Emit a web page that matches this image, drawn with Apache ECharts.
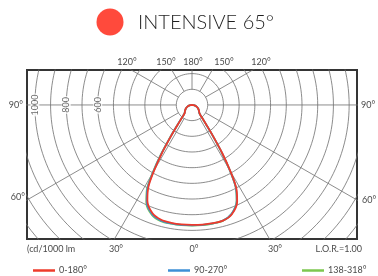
<!DOCTYPE html>
<html>
<head>
<meta charset="utf-8">
<script src="https://cdn.jsdelivr.net/npm/echarts@6/dist/echarts.min.js"></script>
<style>
  html, body { margin: 0; padding: 0; background: #fff; }
  #chart { width: 378px; height: 276px; }
</style>
</head>
<body>
<div id="chart"></div>
<script>
// grid rings (cd/1000 lm) and radial spokes (deg from nadir)
const RINGS = [100, 200, 300, 400, 500, 600, 700, 800, 900, 1000, 1100, 1200, 1300, 1400, 1500];
const SPOKES = [30, 60, 90, 120, 150, 180];
const RADIUS_LABELS = [600, 800, 1000];

// photometric data, angle from nadir
const ANGLES = [0, 5, 10, 15, 20, 25, 28, 30, 32, 34, 36, 38, 40, 42, 45, 50, 60, 70, 80, 90];
const RED_RIGHT = [765, 766, 766, 764, 742, 680, 600, 490, 365, 238, 152, 106, 81, 71, 65, 58, 45, 31, 16, 0];
const RED_LEFT = [765, 765, 763, 758, 735, 672, 590, 480, 358, 234, 150, 104, 80, 70, 64, 58, 45, 31, 16, 0];
const BLUE_RIGHT = [768, 768, 767, 763, 738, 674, 592, 482, 358, 234, 150, 104, 80, 70, 64, 58, 45, 31, 16, 0];
const BLUE_LEFT = [768, 768, 767, 764, 742, 682, 604, 496, 370, 242, 155, 107, 82, 71, 65, 58, 45, 31, 16, 0];
const GREEN_RIGHT = [770, 770, 768, 764, 738, 672, 590, 480, 356, 232, 149, 104, 80, 70, 64, 58, 45, 31, 16, 0];
const GREEN_LEFT = [770, 770, 769, 767, 746, 688, 612, 505, 378, 248, 158, 108, 82, 71, 65, 58, 45, 31, 16, 0];

const SERIES_NAMES = ['0-180°', '90-270°', '138-318°'];
const COLORS = ['#ee3b2b', '#3d8fd6', '#7dc74f'];

const GRID_COLOR = '#6e6e6e';
const LABEL_FONT = 'Lato';

const toXY = (deg, r, side) => {
  const a = deg * Math.PI / 180;
  return [side * r * Math.sin(a), -r * Math.cos(a)];
};

const curve = (left, right) => {
  const pts = [];
  for (let i = ANGLES.length - 1; i >= 0; i--) pts.push(toXY(ANGLES[i], left[i], -1));
  for (let i = 1; i < ANGLES.length; i++) pts.push(toXY(ANGLES[i], right[i], 1));
  return pts;
};

const gridLine = (data) => ({
  type: 'line',
  data: data,
  showSymbol: false,
  silent: true,
  z: 1,
  lineStyle: { color: GRID_COLOR, width: 0.8 }
});

const ringSeries = RINGS.map(r => {
  const pts = [];
  for (let d = 0; d <= 360; d += 2) pts.push(toXY(d, r, 1));
  return gridLine(pts);
});

const spokeSeries = [];
SPOKES.forEach(a => {
  spokeSeries.push(gridLine([toXY(a, 100, 1), toXY(a, 2000, 1)]));
  if (a !== 180) spokeSeries.push(gridLine([toXY(a, 100, -1), toXY(a, 2000, -1)]));
});

const dataSeries = [
  [RED_LEFT, RED_RIGHT, 6],
  [BLUE_LEFT, BLUE_RIGHT, 5],
  [GREEN_LEFT, GREEN_RIGHT, 4]
].map((s, i) => ({
  name: SERIES_NAMES[i],
  type: 'line',
  data: curve(s[0], s[1]),
  showSymbol: false,
  smooth: 0.3,
  z: s[2],
  lineStyle: { color: COLORS[i], width: 1.8 },
  itemStyle: { color: COLORS[i] }
}));

const radiusLabelSeries = {
  type: 'scatter',
  data: RADIUS_LABELS.map(r => [-r, 0, r]),
  symbolSize: 0,
  silent: true,
  z: 3,
  label: {
    show: true,
    position: 'inside',
    rotate: 90,
    formatter: p => String(p.value[2]),
    fontFamily: LABEL_FONT,
    fontSize: 9,
    color: '#444',
    backgroundColor: '#fff',
    padding: [0, 1]
  }
};

const txt = (text, x, y, align, extra) => ({
  type: 'text',
  x: x,
  y: y,
  style: Object.assign({
    text: text,
    fill: '#4a4a4a',
    font: '9px ' + LABEL_FONT,
    textAlign: align,
    textVerticalAlign: 'middle'
  }, extra || {})
});

const legendAt = (i, left) => ({
  data: [SERIES_NAMES[i]],
  left: left,
  top: 261,
  icon: 'rect',
  itemWidth: 22,
  itemHeight: 2.5,
  itemGap: 4,
  selectedMode: false,
  textStyle: { fontFamily: LABEL_FONT, fontSize: 9, color: '#4a4a4a', padding: [0, 0, 0, -1] }
});

const chart = echarts.init(document.getElementById('chart'));
chart.setOption({
  animation: false,
  grid: {
    left: 27, top: 70, width: 330, height: 169,
    show: true, borderColor: '#353535', borderWidth: 2,
    backgroundColor: 'transparent'
  },
  xAxis: { type: 'value', min: -1050, max: 1050, show: false },
  yAxis: { type: 'value', min: -855, max: 223, show: false },
  legend: [legendAt(0, 28), legendAt(1, 163), legendAt(2, 297)],
  graphic: [
    { type: 'circle', shape: { cx: 110, cy: 22, r: 13.5 }, style: { fill: '#ff4a3c' } },
    txt('INTENSIVE 65°', 138, 23, 'left', { font: '300 20px ' + LABEL_FONT, fill: '#1f1f1f' }),
    txt('120°', 127, 62, 'center'),
    txt('150°', 166, 62, 'center'),
    txt('180°', 193, 62, 'center'),
    txt('150°', 224, 62, 'center'),
    txt('120°', 261, 62, 'center'),
    txt('90°', 23, 105, 'right'),
    txt('90°', 361, 105, 'left'),
    txt('60°', 25, 197, 'right'),
    txt('60°', 362, 200, 'left'),
    txt('(cd/1000 lm', 27, 249, 'left'),
    txt('30°', 116, 249, 'center'),
    txt('0°', 194, 249, 'center'),
    txt('30°', 275, 249, 'center'),
    txt('L.O.R.=1.00', 362, 249, 'right')
  ],
  series: [...ringSeries, ...spokeSeries, radiusLabelSeries, ...dataSeries]
});
</script>
</body>
</html>
